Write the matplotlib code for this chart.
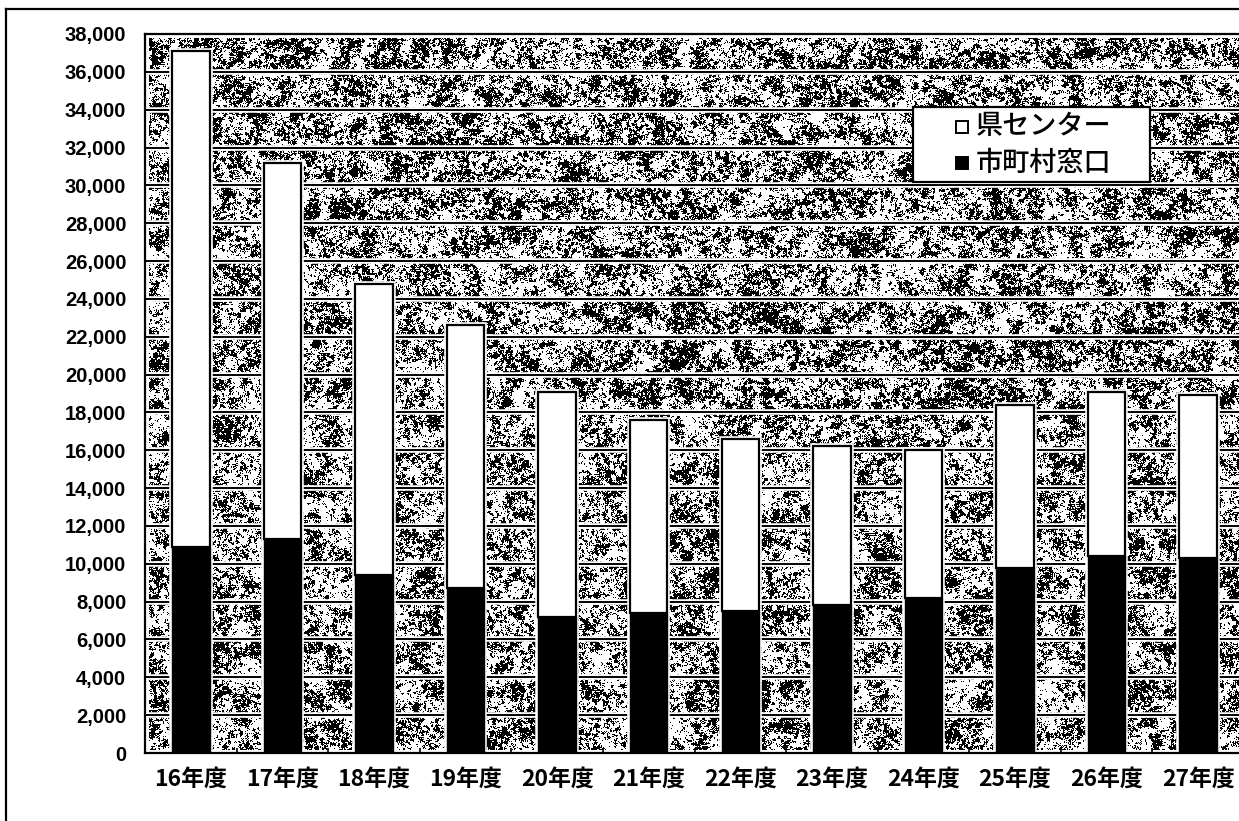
import numpy as np
import matplotlib
matplotlib.use("Agg")
import matplotlib.pyplot as plt
from matplotlib.patches import Rectangle
from matplotlib.lines import Line2D
from matplotlib.ticker import FixedLocator

# ---- data -------------------------------------------------------------
years = ["16年度", "17年度", "18年度", "19年度", "20年度", "21年度",
         "22年度", "23年度", "24年度", "25年度", "26年度", "27年度"]
municipal = [10900, 11300, 9400, 8700, 7200, 7400, 7500, 7800, 8200, 9800, 10400, 10300]
prefecture = [26200, 19900, 15400, 13900, 11900, 10200, 9100, 8400, 7800, 8600, 8700, 8600]
series_names = ["県センター", "市町村窓口"]
y_ticks = list(range(0, 38001, 2000))

W, H = 1239, 821
fig = plt.figure(figsize=(W / 100, H / 100), dpi=100)
CJK = ["Noto Sans CJK JP", "DejaVu Sans"]


def fx(px):
    return px / W


def fy(py):
    return 1 - py / H


# plot area (runs slightly past the right edge of the canvas)
left, right, top, bottom = 145, 1244, 34, 753
ax = fig.add_axes([fx(left), fy(bottom), fx(right - left), (bottom - top) / H])
ax.set_xlim(-0.5, len(years) - 0.5)
ax.set_ylim(0, 38000)


# granite-like black/white speckle texture for the plot background
def granite(h, w, seed=11):
    rng = np.random.default_rng(seed)
    fine = rng.random((h, w))
    base = rng.random((h + 2, w + 2))
    clump = sum(base[i:i + h, j:j + w] for i in range(3) for j in range(3)) / 9.0
    cs = 10
    coarse = rng.random((h // cs + 3, w // cs + 3))
    coarse = np.kron(coarse, np.ones((cs, cs)))
    cc = sum(coarse[i:i + h, j:j + w] for i in range(0, 10, 2) for j in range(0, 10, 2))
    zc = (clump - clump.mean()) / clump.std()
    zf = (fine - 0.5) / 0.289
    zk = (cc - cc.mean()) / cc.std()
    z = 0.7 * zc + 0.5 * zf + 0.45 * zk
    thr = np.quantile(z, 0.56)
    return np.where(z > thr, 0.0, 1.0)


tex = granite(bottom - top, right - left)
ax.imshow(tex, cmap="gray", vmin=0, vmax=1, aspect="auto", interpolation="nearest",
          extent=(-0.5, len(years) - 0.5, 0, 38000), zorder=0)

# horizontal gridlines: dark line with a light halo
for yv in y_ticks[1:-1]:
    ax.axhline(yv, color="white", lw=4.0, zorder=1)
    ax.axhline(yv, color="black", lw=1.4, zorder=1.1)
# light band just inside the frame
ax.axhline(0, color="white", lw=5, zorder=1)
ax.axhline(38000, color="white", lw=5, zorder=1)
ax.axvline(-0.5, color="white", lw=5, zorder=1)

x = np.arange(len(years))
bw = 0.41
totals = np.array(municipal) + np.array(prefecture)
# halo around each stacked bar
ax.bar(x, totals, width=bw, color="white", edgecolor="white", lw=4.0, zorder=2)
ax.bar(x, municipal, width=bw, color="black", edgecolor="black", lw=1.0, zorder=3)
ax.bar(x, prefecture, width=bw, bottom=municipal, color="white",
       edgecolor="black", lw=1.6, zorder=3)

for s in ax.spines.values():
    s.set_linewidth(1.6)
    s.set_color("black")
    s.set_zorder(4)

ax.set_yticks(y_ticks)
ax.set_yticklabels([f"{v:,}" for v in y_ticks], fontfamily="Liberation Sans",
                   fontsize=14.5, fontweight="bold")
ax.tick_params(axis="y", length=0, pad=13.5)

ax.set_xticks(x)
ax.set_xticklabels(years, fontfamily=CJK, fontsize=16.5, fontweight="bold")
ax.xaxis.set_minor_locator(FixedLocator(np.arange(0.5, len(years) - 0.5, 1)))
ax.tick_params(axis="x", which="major", length=0, pad=10.5)
ax.tick_params(axis="x", which="minor", direction="in", length=3.5, width=1.2)

# legend box
fig.add_artist(Rectangle((fx(913), fy(182)), fx(1150 - 913), (182 - 107) / H,
                         transform=fig.transFigure, facecolor="white",
                         edgecolor="black", lw=1.6, zorder=5))
rows = [(127, "white"), (163, "black")]
for (ry, fc), name in zip(rows, series_names):
    sq = 12.5
    fig.add_artist(Rectangle((fx(956), fy(ry + sq / 2)), fx(sq), sq / H,
                             transform=fig.transFigure, facecolor=fc,
                             edgecolor="black", lw=1.4, zorder=6))
    fig.text(fx(976), fy(ry), name, ha="left", va="center", fontsize=19.5,
             fontfamily=CJK, fontweight="medium", zorder=6)

# outer frame (top and left edges visible)
fig.add_artist(Line2D([fx(6), fx(6)], [fy(9), 0], transform=fig.transFigure,
                      color="black", lw=1.6))
fig.add_artist(Line2D([fx(6), 1], [fy(9), fy(9)], transform=fig.transFigure,
                      color="black", lw=1.6))

fig.savefig("out.png", dpi=100)
